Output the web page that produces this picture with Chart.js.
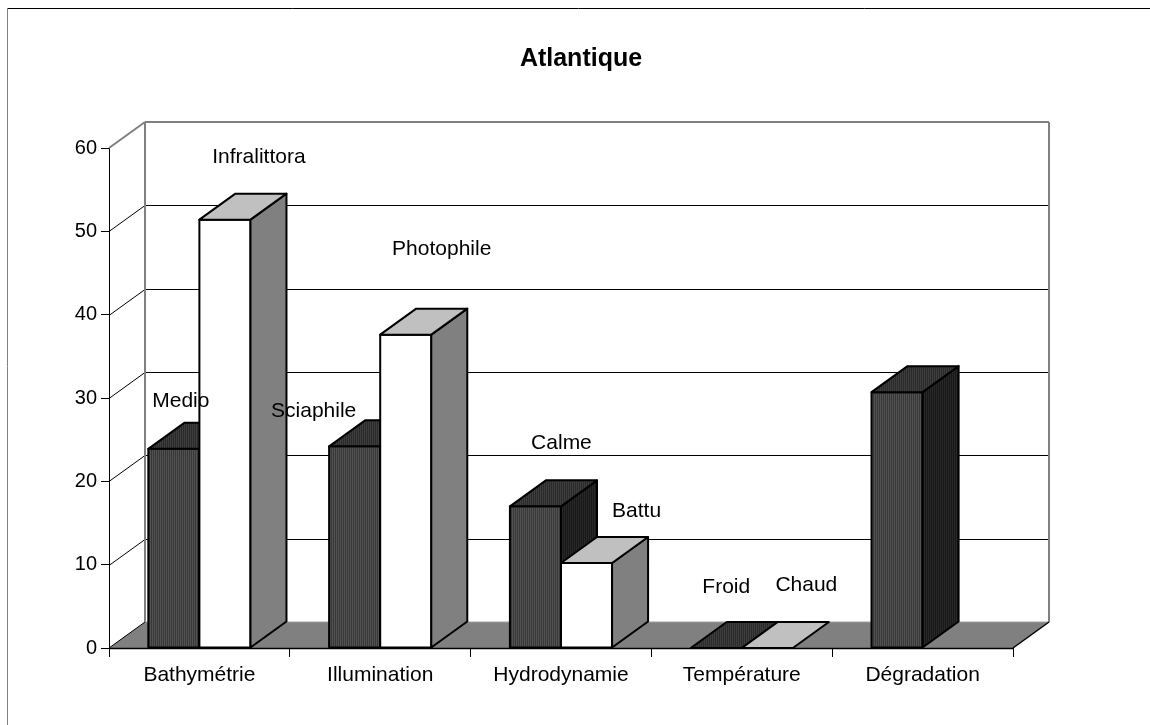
<!DOCTYPE html>
<html>
<head>
<meta charset="utf-8">
<title>Atlantique</title>
<script src="https://cdn.jsdelivr.net/npm/chart.js@4/dist/chart.umd.min.js"></script>
<style>
    html, body { margin: 0; padding: 0; background: #fff; }
    #chart { display: block; }
</style>
</head>
<body>
<canvas id="chart" width="1150" height="725"></canvas>
<script>
const chartTitle = 'Atlantique';
const categories = ['Bathymétrie', 'Illumination', 'Hydrodynamie', 'Température', 'Dégradation'];
const firstValues = [23.9, 24.2, 17, 0, 30.7];
const secondValues = [51.4, 37.6, 10.2, 0, null];
const firstNames = ['Medio', 'Sciaphile', 'Calme', 'Froid', ''];
const secondNames = ['Infralittora', 'Photophile', 'Battu', 'Chaud', ''];
const yMin = 0;
const yMax = 60;
const yStep = 10;

// label placement relative to the top of each bar (pixels)
const labelNudge = [
    [[7, -48], [34, -62]],
    [[-41, -35], [36, -85]],
    [[26, -63], [50, -52]],
    [[10, -61], [39, -63]],
    [[0, 0], [0, 0]]
];

const FONT = "'Liberation Sans', Arial, sans-serif";
const DX = 36;
const DY = -26;

function stripes(ctx, a, b) {
    const c = document.createElement('canvas');
    c.width = 2;
    c.height = 1;
    const g = c.getContext('2d');
    g.fillStyle = a; g.fillRect(0, 0, 1, 1);
    g.fillStyle = b; g.fillRect(1, 0, 1, 1);
    return ctx.createPattern(c, 'repeat');
}

function poly(ctx, pts, fill) {
    ctx.beginPath();
    ctx.moveTo(pts[0][0], pts[0][1]);
    for (let i = 1; i < pts.length; i++) ctx.lineTo(pts[i][0], pts[i][1]);
    ctx.closePath();
    ctx.fillStyle = fill;
    ctx.fill();
    ctx.stroke();
}

function line(ctx, x1, y1, x2, y2, color, width) {
    ctx.beginPath();
    ctx.moveTo(x1, y1);
    ctx.lineTo(x2, y2);
    ctx.strokeStyle = color;
    ctx.lineWidth = width;
    ctx.stroke();
}

const boxPlugin = {
    id: 'box3d',
    beforeDraw(chart) {
        const ctx = chart.ctx;
        ctx.save();
        line(ctx, 7, 8.5, chart.width, 8.5, '#000', 1);
        line(ctx, 7.5, 8, 7.5, chart.height, '#808080', 1);
        ctx.fillStyle = '#000';
        ctx.font = 'bold 25px ' + FONT;
        ctx.textAlign = 'center';
        ctx.textBaseline = 'alphabetic';
        ctx.fillText(chartTitle, 581, 66);
        ctx.restore();
    },
    beforeDatasetsDraw(chart) {
        const ctx = chart.ctx;
        const area = chart.chartArea;
        const ys = chart.scales.y;
        const wl = area.left + DX, wr = area.right + DX;
        const wt = ys.getPixelForValue(yMax) + DY, wb = area.bottom + DY;
        ctx.save();
        // floor
        ctx.beginPath();
        ctx.moveTo(area.left, area.bottom);
        ctx.lineTo(area.right, area.bottom);
        ctx.lineTo(wr, wb);
        ctx.lineTo(wl, wb);
        ctx.closePath();
        ctx.fillStyle = '#808080';
        ctx.fill();
        // grid on back wall and side wall
        for (let v = yMin + yStep; v < yMax; v += yStep) {
            const py = Math.round(ys.getPixelForValue(v)) + 0.5;
            line(ctx, wl, py + DY, wr, py + DY, '#000', 1);
            line(ctx, area.left, py, wl, py + DY, '#000', 1);
        }
        line(ctx, area.left, area.bottom, wl, wb, '#000', 1);
        // wall edges
        line(ctx, area.left, ys.getPixelForValue(yMax), wl, wt, '#808080', 2);
        line(ctx, wl, wt, wr, wt, '#808080', 2);
        line(ctx, wl, wt, wl, wb, '#808080', 2);
        line(ctx, wr, wt, wr, wb, '#808080', 2);
        line(ctx, wl, wb, wr, wb, '#a0a0a0', 1);
        line(ctx, area.right, area.bottom, wr, wb, '#000', 1.5);
        line(ctx, area.left, area.bottom + 0.5, area.right, area.bottom + 0.5, '#000', 1.5);
        ctx.restore();
    },
    afterDatasetsDraw(chart) {
        const ctx = chart.ctx;
        const faces = [
            {
                front: stripes(ctx, '#525252', '#383838'),
                top: stripes(ctx, '#3e3e3e', '#2a2a2a'),
                side: stripes(ctx, '#282828', '#181818')
            },
            { front: '#ffffff', top: '#c0c0c0', side: '#808080' }
        ];
        const names = [firstNames, secondNames];
        const labels = [];
        ctx.save();
        ctx.strokeStyle = '#000';
        ctx.lineWidth = 2;
        ctx.lineJoin = 'round';
        categories.forEach((cat, i) => {
            chart.data.datasets.forEach((ds, d) => {
                const v = ds.data[i];
                if (v === null || v === undefined) return;
                const bar = chart.getDatasetMeta(d).data[i];
                const p = bar.getProps(['x', 'y', 'base', 'width'], true);
                const l = p.x - p.width / 2, r = p.x + p.width / 2;
                const top = p.y, base = p.base;
                const f = faces[d];
                if (base - top > 0.5) {
                    ctx.fillStyle = f.front;
                    ctx.fillRect(l, top, r - l, base - top);
                    ctx.strokeRect(l, top, r - l, base - top);
                    poly(ctx, [[r, top], [r + DX, top + DY], [r + DX, base + DY], [r, base]], f.side);
                }
                poly(ctx, [[l, top], [r, top], [r + DX, top + DY], [l + DX, top + DY]], f.top);
                if (names[d][i]) {
                    const n = labelNudge[i][d];
                    labels.push([names[d][i], p.x + n[0], top + n[1]]);
                }
            });
        });
        ctx.fillStyle = '#000';
        ctx.font = '21px ' + FONT;
        ctx.textAlign = 'center';
        ctx.textBaseline = 'middle';
        labels.forEach(t => ctx.fillText(t[0], t[1], t[2]));
        ctx.restore();
    }
};

const ctx = document.getElementById('chart');
new Chart(ctx, {
    type: 'bar',
    data: {
        labels: categories,
        datasets: [
            { label: 'série 1', data: firstValues, backgroundColor: 'rgba(0,0,0,0)', borderWidth: 0 },
            { label: 'série 2', data: secondValues, backgroundColor: 'rgba(0,0,0,0)', borderWidth: 0 }
        ]
    },
    options: {
        responsive: false,
        animation: false,
        layout: { padding: { top: 148, left: 0, right: 137, bottom: 0 } },
        datasets: { bar: { categoryPercentage: 0.565, barPercentage: 1 } },
        plugins: {
            legend: { display: false },
            tooltip: { enabled: false },
            title: { display: false }
        },
        scales: {
            x: {
                afterFit(scale) { scale.height = 77; },
                grid: { display: true, drawOnChartArea: false, offset: true, tickLength: 9, color: '#000' },
                border: { display: true, color: '#000', width: 1 },
                ticks: { color: '#000', font: { family: FONT, size: 21 }, padding: 6, maxRotation: 0, autoSkip: false }
            },
            y: {
                min: yMin,
                max: yMax,
                afterFit(scale) { scale.width = 109; },
                grid: { display: true, drawOnChartArea: false, tickLength: 8, color: '#000' },
                border: { display: true, color: '#000', width: 1 },
                ticks: { stepSize: yStep, color: '#000', font: { family: FONT, size: 20 }, padding: 4 }
            }
        }
    },
    plugins: [boxPlugin]
});
</script>
</body>
</html>
